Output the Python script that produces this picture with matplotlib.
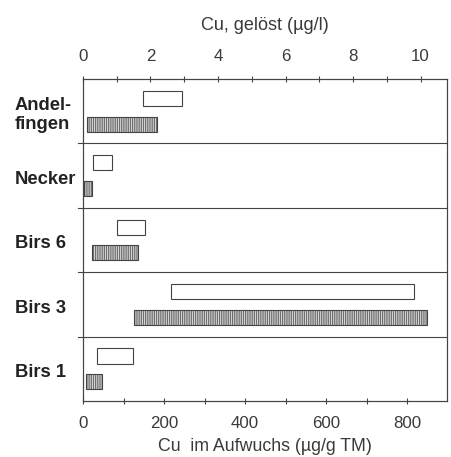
import matplotlib
matplotlib.use('Agg')
import matplotlib.pyplot as plt
import matplotlib.transforms as mtransforms

# sites, top to bottom
sites = ['Andel-\nfingen', 'Necker', 'Birs 6', 'Birs 3', 'Birs 1']

# Cu dissolved (ug/l), range min..max  -> open bars, top axis
geloest_min = [1.78, 0.30, 1.00, 2.60, 0.41]
geloest_max = [2.92, 0.85, 1.84, 9.82, 1.48]

# Cu in periphyton (ug/g TM), range min..max -> hatched bars, bottom axis
aufwuchs_min = [9, 3, 23, 127, 7]
aufwuchs_max = [183, 23, 135, 850, 46]

top_ticks = [0, 1, 2, 3, 4, 5, 6, 7, 8, 9, 10]
bottom_ticks = [0, 100, 200, 300, 400, 500, 600, 700, 800]

plt.rcParams['font.family'] = ['Liberation Sans', 'DejaVu Sans']
plt.rcParams['hatch.color'] = '#7a7a7a'
plt.rcParams['hatch.linewidth'] = 0.5
line_col = '#444444'
text_col = '#3a3a3a'

fig = plt.figure(figsize=(4.52, 4.57), dpi=100)
ax = fig.add_axes([0.1836, 0.1225, 0.805, 0.7046])
ax2 = ax.twiny()

n = len(sites)
bar_h = 0.235
for i in range(n):
    ax2.barh(i + 0.30, geloest_max[i] - geloest_min[i], left=geloest_min[i],
             height=bar_h, facecolor='white', edgecolor=line_col, linewidth=0.8)
    ax.barh(i + 0.70, aufwuchs_max[i] - aufwuchs_min[i], left=aufwuchs_min[i],
            height=bar_h, facecolor='#d4d4d4', edgecolor=line_col, linewidth=0.8,
            hatch='|' * 9)

# separators between sites, sticking out a little on the left
for k in range(1, n):
    ax.plot([-0.014, 1], [k, k], transform=ax.get_yaxis_transform(),
            color=line_col, lw=0.8, clip_on=False)

ax.set_ylim(n, 0)
ax.set_yticks([])
ax.set_xlim(0, 898)
ax2.set_xlim(0, 10.78)

ax.set_xticks(bottom_ticks)
ax.set_xticklabels([str(t) if t % 200 == 0 else '' for t in bottom_ticks])
ax2.set_xticks(top_ticks)
ax2.set_xticklabels([str(t) if t % 2 == 0 else '' for t in top_ticks])

for a in (ax, ax2):
    a.tick_params(direction='inout', length=5, width=0.8, color=line_col,
                  labelsize=12.2, labelcolor=text_col, pad=8)
    for s in a.spines.values():
        s.set_color(line_col)
        s.set_linewidth(0.8)

ax.set_xlabel('Cu  im Aufwuchs (µg/g TM)', fontsize=12.8, color=text_col, labelpad=5)
ax2.set_xlabel('Cu, gelöst (µg/l)', fontsize=13, color=text_col, labelpad=14)

# site labels: x in figure fraction, y in data units
trans = mtransforms.blended_transform_factory(fig.transFigure, ax.transData)
for i, name in enumerate(sites):
    ax.text(15 / 452, i + 0.56, name, transform=trans, fontsize=13.2,
            fontweight='bold', color='#222222', ha='left', va='center',
            linespacing=1.2)

fig.savefig('out.png', dpi=100)
plt.close(fig)
